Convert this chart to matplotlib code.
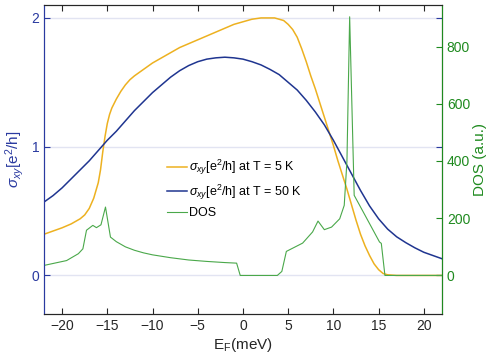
import matplotlib
matplotlib.use("Agg")
import matplotlib.pyplot as plt

plt.rcParams['font.family'] = ['Liberation Sans', 'DejaVu Sans']
plt.rcParams['mathtext.fontset'] = 'custom'
plt.rcParams['mathtext.rm'] = 'Liberation Sans'
plt.rcParams['mathtext.it'] = 'Liberation Sans:italic'

# sigma_xy at T = 5 K
e5 = [-22, -21, -20, -19, -18, -17.5, -17, -16.5, -16, -15.75, -15.5, -15.25, -15, -14.75, -14.5, -14, -13.5, -13, -12.5,
      -12, -11, -10, -9, -8, -7, -6, -5, -4, -3, -2, -1, 0, 1, 2, 3, 3.5, 4, 4.5, 5, 5.5, 6, 6.5, 7, 7.5, 8, 8.5, 9,
      9.5, 10, 10.5, 11, 11.5, 12, 12.5, 13, 13.5, 14, 14.5, 15, 15.5, 16, 17, 22]
s5 = [0.32, 0.345, 0.37, 0.40, 0.44, 0.47, 0.52, 0.60, 0.72, 0.82, 0.96, 1.08, 1.18, 1.25, 1.30, 1.37, 1.43, 1.48, 1.52,
      1.55, 1.60, 1.65, 1.69, 1.73, 1.77, 1.80, 1.83, 1.86, 1.89, 1.92, 1.95, 1.97, 1.99, 2.0, 2.0, 2.0, 1.99, 1.98, 1.95,
      1.91, 1.85, 1.76, 1.66, 1.55, 1.45, 1.34, 1.23, 1.12, 1.01, 0.89, 0.78, 0.67, 0.55, 0.43, 0.32, 0.23, 0.155,
      0.09, 0.045, 0.015, 0.005, 0.0, 0.0]

# sigma_xy at T = 50 K
e50 = [-22, -21, -20, -19, -18, -17, -16, -15, -14, -13, -12, -11, -10, -9, -8, -7, -6, -5, -4, -3, -2, -1, 0,
       1, 2, 3, 4, 5, 6, 7, 8, 9, 10, 11, 12, 13, 14, 15, 16, 17, 18, 19, 20, 21, 22]
s50 = [0.57, 0.62, 0.68, 0.75, 0.82, 0.89, 0.97, 1.05, 1.12, 1.20, 1.28, 1.35, 1.42, 1.48, 1.54, 1.59, 1.63, 1.66,
       1.68, 1.69, 1.695, 1.69, 1.68, 1.66, 1.635, 1.60, 1.56, 1.50, 1.44, 1.36, 1.27, 1.17, 1.05, 0.92, 0.79, 0.66,
       0.54, 0.44, 0.36, 0.30, 0.255, 0.215, 0.18, 0.155, 0.13]

# DOS
edos = [-22, -19.5, -18.2, -17.7, -17.3, -16.6, -16.2, -15.7, -15.2, -14.65, -14, -13, -12, -11, -10, -8, -6, -4, -2,
        -0.7, -0.3, 3.8, 4.3, 4.8, 6.6, 7.7, 8.3, 9.0, 9.8, 10.7, 11.2, 11.5, 11.8, 12.3, 13.3, 15.1, 15.3, 15.7, 22]
dos = [35, 52, 76, 93, 158, 175, 167, 177, 239, 134, 118, 100, 88, 79, 72, 62, 54, 49, 45,
       43, 0, 0, 14, 84, 113, 152, 190, 160, 169, 198, 245, 400, 904, 280, 222, 117, 112, 0, 0]

blue_axis = '#2a3aa0'
green_axis = '#1f8a1f'
c5 = '#edb120'
c50 = '#1f3590'
cdos = '#4aa84a'

fig = plt.figure(figsize=(4.91, 3.61), dpi=100)
ax = fig.add_axes([0.0896, 0.130, 0.8104, 0.856])
ax2 = ax.twinx()

ax.set_xlim(-22, 22)
ax.set_ylim(-0.3, 2.1)
ax2.set_ylim(-135, 945)

for yv in [0, 1, 2]:
    ax.axhline(yv, color='#e2e4f2', lw=1.0, zorder=0)

ax.plot(e5, s5, color=c5, lw=1.1, label=r'$\sigma_{xy}$[e$^2$/h] at T = 5 K')
ax.plot(e50, s50, color=c50, lw=1.1, label=r'$\sigma_{xy}$[e$^2$/h] at T = 50 K')
ax2.plot(edos, dos, color=cdos, lw=0.8, label='DOS')

ax.set_xticks([-20, -15, -10, -5, 0, 5, 10, 15, 20])
ax.set_yticks([0, 1, 2])
ax2.set_yticks([0, 200, 400, 600, 800])

ax.tick_params(axis='x', direction='in', top=True, labelsize=10, colors='#262626', length=4)
ax.tick_params(axis='y', direction='in', right=True, labelsize=10, colors=blue_axis, length=4)
ax2.tick_params(axis='y', direction='in', labelsize=10, colors=green_axis, length=4)

ax.spines['left'].set_color(blue_axis)
ax.spines['top'].set_color('#262626')
ax.spines['bottom'].set_color('#262626')
ax2.spines['right'].set_color(green_axis)
ax2.spines['left'].set_color(blue_axis)
ax2.spines['top'].set_color('#262626')
ax2.spines['bottom'].set_color('#262626')

ax.set_xlabel(r'E$_\mathrm{F}$(meV)', fontsize=11, color='#262626', labelpad=2)
ax.set_ylabel(r'$\sigma_{xy}$[e$^2$/h]', fontsize=11, color=blue_axis, labelpad=4)
ax2.set_ylabel('DOS (a.u.)', fontsize=11, color=green_axis, labelpad=2)

h1, l1 = ax.get_legend_handles_labels()
h2, l2 = ax2.get_legend_handles_labels()
leg = ax2.legend(h1 + h2, l1 + l2, loc='upper left', bbox_to_anchor=(0.31, 0.505), frameon=False,
                 fontsize=9, handlelength=1.6, handletextpad=0.15, labelspacing=0.42, borderaxespad=0,
                 borderpad=0)

fig.savefig('out.png', dpi=100)
